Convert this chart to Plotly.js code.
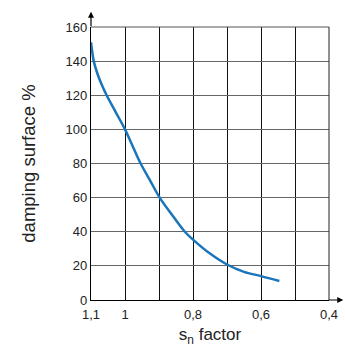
<!DOCTYPE html>
<html><head><meta charset="utf-8">
<script src="https://cdn.plot.ly/plotly-3.0.1.min.js"></script>
<style>html,body{margin:0;padding:0;background:#fff}#c{width:345px;height:347px}</style>
</head><body><div id="c"></div>
<script>
const snFactor = [1.1, 1.096, 1.092, 1.08, 1.068, 1.054, 1.027, 1.0, 0.977, 0.954, 0.926, 0.898, 0.862, 0.824, 0.8, 0.75, 0.7, 0.65, 0.6, 0.546];
const dampingSurface = [151, 145, 140, 132, 126, 120, 110, 100, 90, 80, 70, 60, 50, 40, 35.4, 27.2, 20.8, 16.5, 14, 11.1];
const xTickVals = [1.1, 1.0, 0.9, 0.8, 0.7, 0.6, 0.5, 0.4];
const xTickText = ['1,1', '1', '', '0,8', '', '0,6', '', '0,4'];
const yTickVals = [0, 20, 40, 60, 80, 100, 120, 140, 160];

const fam = 'Liberation Sans, Arial, Helvetica, sans-serif';
Plotly.newPlot('c', [{
  x: snFactor, y: dampingSurface, mode: 'lines', type: 'scatter',
  line: {color: '#1a75bb', width: 2.5, shape: 'spline', smoothing: 1}, hoverinfo: 'none'
}], {
  width: 345, height: 347,
  margin: {l: 91, r: 16, t: 27, b: 47},
  paper_bgcolor: '#fff', plot_bgcolor: '#fff',
  showlegend: false,
  font: {family: fam, color: '#222'},
  xaxis: {
    range: [1.1, 0.4], tickvals: xTickVals, ticktext: xTickText,
    showgrid: true, gridcolor: '#111', gridwidth: 1,
    zeroline: false, showline: true, linecolor: '#000', linewidth: 1.2,
    ticks: '', ticklabelstandoff: 2, tickfont: {size: 13, family: fam, color: '#222'},
    title: {text: 's<sub>n</sub> factor', font: {size: 17, family: fam, color: '#222'}, standoff: 11}
  },
  yaxis: {
    range: [0, 160], tickvals: yTickVals,
    showgrid: true, gridcolor: '#666', gridwidth: 1,
    zeroline: false, showline: true, linecolor: '#000', linewidth: 1.2,
    ticks: '', tickfont: {size: 13, family: fam, color: '#222'},
    title: {text: 'damping surface %', font: {size: 18.5, family: fam, color: '#222'}, standoff: 25}
  },
  shapes: [
    {type: 'line', xref: 'paper', yref: 'paper', x0: 0, x1: 1, y0: 1, y1: 1, line: {color: '#555', width: 1}},
    {type: 'line', xref: 'paper', yref: 'paper', x0: 1, x1: 1, y0: 0, y1: 1, line: {color: '#222', width: 1}}
  ],
  annotations: [
    {xref: 'paper', yref: 'paper', x: 1.06, y: 0, ax: -16, ay: 0, text: '', showarrow: true, arrowhead: 2, arrowsize: 1, arrowwidth: 1.2, arrowcolor: '#000'},
    {xref: 'paper', yref: 'paper', x: 0, y: 1.056, ax: 0, ay: 16, text: '', showarrow: true, arrowhead: 2, arrowsize: 1, arrowwidth: 1.2, arrowcolor: '#000'}
  ]
}, {staticPlot: true});
</script></body></html>
